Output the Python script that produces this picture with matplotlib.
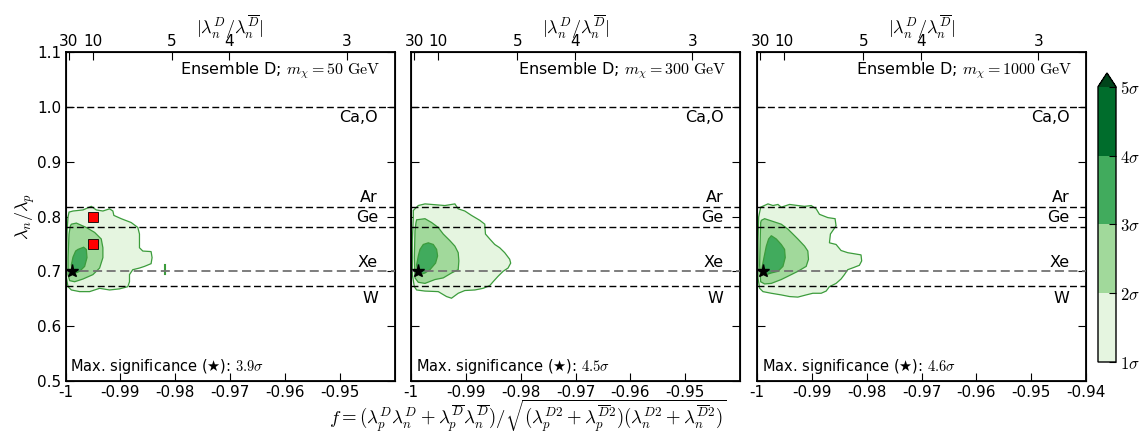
import numpy as np
import matplotlib
matplotlib.use("Agg")
import matplotlib.pyplot as plt
from matplotlib.colors import ListedColormap, BoundaryNorm
from matplotlib.cm import ScalarMappable

plt.rcParams['mathtext.fontset'] = 'cm'
plt.rcParams['font.size'] = 11

# masses and max significance per panel
masses = [50, 300, 1000]
max_sig = ["3.9", "4.5", "4.6"]

# best point (star)
star_f = [-0.9988, -0.9988, -0.9989]
star_y = [0.701, 0.701, 0.701]

# horizontal lines: lambda_n/lambda_p = Z/N for the targets
targets = ["Ca,O", "Ar", "Ge", "Xe", "W"]
target_ratio = [1.0, 18 / 22, 32 / 41, 54 / 77, 74 / 110]
target_label_y = [0.981, 0.835, 0.798, 0.717, 0.651]

# top axis ticks |lambda_n^D / lambda_n^Dbar|
top_ratios = [30, 10, 5, 4, 3]

# contour outlines: offset from f=-1 in units of 1e-3, and lambda_n/lambda_p
# panel 1 (50 GeV)
p1_s1_df = [0.64, 1.37, 3.19, 4.70, 5.61, 6.82, 8.04, 8.64, 8.82, 10.16, 11.98, 13.19, 13.49, 13.49, 14.1,
            15.61, 15.79, 15.61, 14.4, 13.49, 12.27, 11.67, 11.67, 11.37, 9.85, 8.04, 6.22, 4.4, 2.58, 1.07,
            0.46, 0.16, 0.16, 0.28, 0.46]
p1_s1_y = [0.808, 0.810, 0.812, 0.8185, 0.812, 0.810, 0.814, 0.810, 0.802, 0.796, 0.789, 0.780, 0.768, 0.743,
           0.737, 0.736, 0.725, 0.714, 0.709, 0.706, 0.703, 0.694, 0.681, 0.672, 0.668, 0.666, 0.669, 0.663,
           0.663, 0.666, 0.672, 0.688, 0.725, 0.774, 0.799]
p1_s2_df = [1.07, 1.98, 3.79, 5.31, 6.52, 6.82, 6.82, 6.22, 5.0, 3.19, 1.67, 0.76, 0.46, 0.46, 0.64, 0.885]
p1_s2_y = [0.786, 0.788, 0.780, 0.771, 0.759, 0.743, 0.725, 0.706, 0.694, 0.686, 0.681, 0.683, 0.694, 0.725,
           0.768, 0.783]
p1_s3_df = [2.28, 3.31, 3.79, 3.92, 3.49, 2.58, 1.85, 1.25, 1.07, 1.37, 1.85]
p1_s3_y = [0.740, 0.744, 0.740, 0.725, 0.709, 0.700, 0.697, 0.700, 0.712, 0.726, 0.737]

# panel 2 (300 GeV)
p2_s1_df = [0.42, 1.33, 2.55, 3.76, 6.18, 8.0, 8.61, 9.82, 11.03, 12.55, 13.45, 13.58, 14.36, 15.27, 16.18,
            17.09, 18.0, 18.18, 17.7, 16.79, 15.88, 14.97, 14.36, 13.15, 11.64, 9.82, 8.61, 7.39, 6.48, 4.97,
            2.55, 1.03, 0.61, 0.24, 0.24, 0.42]
p2_s1_y = [0.811, 0.820, 0.823, 0.822, 0.820, 0.823, 0.814, 0.810, 0.802, 0.793, 0.786, 0.768, 0.759, 0.749,
           0.743, 0.734, 0.722, 0.715, 0.706, 0.700, 0.691, 0.681, 0.674, 0.669, 0.666, 0.665, 0.660, 0.651,
           0.654, 0.663, 0.664, 0.666, 0.672, 0.694, 0.756, 0.799]
p2_s2_df = [1.03, 2.55, 3.76, 4.97, 5.88, 7.09, 8.0, 8.61, 8.73, 8.61, 7.39, 5.88, 4.36, 2.55, 1.33, 0.73,
            0.61, 0.73, 0.91]
p2_s2_y = [0.794, 0.796, 0.789, 0.780, 0.768, 0.756, 0.746, 0.734, 0.719, 0.703, 0.697, 0.688, 0.685, 0.678,
           0.680, 0.688, 0.725, 0.774, 0.789]
p2_s3_df = [2.24, 3.15, 4.06, 4.67, 4.85, 4.48, 3.45, 2.55, 1.64, 1.21, 1.03, 1.33, 1.64]
p2_s3_y = [0.749, 0.752, 0.749, 0.740, 0.728, 0.715, 0.703, 0.697, 0.694, 0.697, 0.712, 0.728, 0.740]

# panel 3 (1000 GeV)
p3_s1_df = [0.67, 2.0, 2.91, 3.82, 4.42, 5.94, 7.45, 8.67, 9.88, 10.79, 11.39, 12.91, 14.24, 14.42, 13.39,
            13.21, 14.42, 15.33, 16.55, 17.76, 18.97, 19.09, 18.67, 17.64, 16.55, 15.94, 15.33, 14.42, 13.21,
            12.61, 11.7, 10.18, 8.97, 7.45, 5.94, 4.42, 2.61, 1.09, 0.48, 0.18, 0.18, 0.3]
p3_s1_y = [0.817, 0.823, 0.820, 0.822, 0.817, 0.822, 0.820, 0.8185, 0.820, 0.814, 0.804, 0.798, 0.796, 0.783,
           0.768, 0.752, 0.749, 0.738, 0.734, 0.732, 0.730, 0.719, 0.711, 0.707, 0.703, 0.694, 0.686, 0.678,
           0.672, 0.664, 0.660, 0.660, 0.657, 0.653, 0.654, 0.657, 0.660, 0.663, 0.669, 0.688, 0.756, 0.799]
p3_s2_df = [0.79, 1.39, 2.91, 4.42, 5.64, 6.55, 7.45, 8.67, 9.27, 9.39, 8.97, 7.45, 5.64, 4.42, 2.61, 1.39,
            0.67, 0.48, 0.61, 0.67]
p3_s2_y = [0.793, 0.796, 0.791, 0.786, 0.777, 0.768, 0.759, 0.746, 0.737, 0.722, 0.709, 0.700, 0.691, 0.685,
           0.678, 0.677, 0.681, 0.712, 0.768, 0.789]
p3_s3_df = [2.61, 3.52, 4.42, 5.03, 5.15, 4.73, 3.82, 2.61, 1.7, 1.09, 0.91, 1.27, 1.7, 2.12]
p3_s3_y = [0.765, 0.759, 0.749, 0.740, 0.725, 0.709, 0.700, 0.697, 0.694, 0.695, 0.706, 0.725, 0.746, 0.759]

contours = [
    [(p1_s1_df, p1_s1_y), (p1_s2_df, p1_s2_y), (p1_s3_df, p1_s3_y)],
    [(p2_s1_df, p2_s1_y), (p2_s2_df, p2_s2_y), (p2_s3_df, p2_s3_y)],
    [(p3_s1_df, p3_s1_y), (p3_s2_df, p3_s2_y), (p3_s3_df, p3_s3_y)],
]

# small 1 sigma island in panel 1
island_f = [-0.9818, -0.9818]
island_y = [0.695, 0.711]

# red squares in panel 1
square_f = [-0.99504, -0.99504]
square_y = [0.80, 0.75]

xticks = [-1, -0.99, -0.98, -0.97, -0.96, -0.95, -0.94]
xticklabels = ["-1", "-0.99", "-0.98", "-0.97", "-0.96", "-0.95", "-0.94"]
yticks = [0.5, 0.6, 0.7, 0.8, 0.9, 1.0, 1.1]

sig_colors = ['#e5f5e0', '#a1d99b', '#41ab5d', '#006d2c']
over_color = '#00441b'
edge_color = '#3c9c3c'

W, H = 1145, 436
fig = plt.figure(figsize=(W / 100, H / 100), dpi=100)
lefts = [65.5, 411, 757]
axes = []
for i in range(3):
    ax = fig.add_axes([lefts[i] / W, 1 - 381 / H, 329 / W, 329 / H])
    axes.append(ax)

for i, ax in enumerate(axes):
    ax.set_xlim(-1, -0.94)
    ax.set_ylim(0.5, 1.1)
    for k, (df, yy) in enumerate(contours[i]):
        ff = -1 + np.array(df) * 1e-3
        ax.fill(ff, yy, facecolor=sig_colors[k], edgecolor=edge_color, lw=0.9, zorder=2)
    if i == 0:
        ax.plot(island_f, island_y, color=edge_color, lw=1.5, zorder=2)
        ax.plot(square_f, square_y, 's', color='red', mec='k', mew=0.6, ms=6.5, ls='none', zorder=5)

    for name, r, ly in zip(targets, target_ratio, target_label_y):
        col = '0.45' if name == "Xe" else 'k'
        lw = 1.3 if name == "Xe" else 1.0
        ax.axhline(r, ls=(0, (5, 2.5)), color=col, lw=lw, zorder=3)
        ax.text(-0.943, ly, name, ha='right', va='center', fontsize=11.5, zorder=4)

    ax.plot(star_f[i], star_y[i], '*', color='k', ms=9.5, zorder=6, clip_on=False)

    ax.text(-0.9425, 1.066, "Ensemble D; $m_\\chi = %d\\ \\mathrm{GeV}$" % masses[i],
            ha='right', va='center', fontsize=11.5)
    ax.text(-0.9991, 0.527, "Max. significance (\u2605): $%s\\sigma$" % max_sig[i],
            ha='left', va='center', fontsize=10.5)

    if i < 2:
        ax.set_xticks(xticks[:-1])
        ax.set_xticklabels(xticklabels[:-1])
    else:
        ax.set_xticks(xticks)
        ax.set_xticklabels(xticklabels)
    ax.set_yticks(yticks)
    if i == 0:
        ax.set_yticklabels(["%.1f" % v for v in yticks])
    else:
        ax.set_yticklabels([])
    ax.tick_params(direction='in', length=6, width=0.8, top=False, right=True, labelsize=11, pad=3)
    for s in ax.spines.values():
        s.set_linewidth(1.3)

    top = ax.twiny()
    top.set_xlim(-1, -0.94)
    tr = np.array(top_ratios, dtype=float)
    top.set_xticks(-tr / np.sqrt(tr ** 2 + 1))
    top.set_xticklabels([str(v) for v in top_ratios])
    top.tick_params(direction='in', length=6, width=0.8, labelsize=11, pad=2)
    top.set_xlabel(r'$|\lambda_n^D/\lambda_n^{\overline{D}}|$', fontsize=13, labelpad=0)

fig.text(25 / W, 1 - 216 / H, r'$\lambda_n/\lambda_p$', rotation=90, ha='center', va='center', fontsize=13)
fig.text(528 / W, 1 - 416 / H,
         r'$f=(\lambda_p^D\lambda_n^D+\lambda_p^{\overline{D}}\lambda_n^{\overline{D}})/'
         r'\sqrt{(\lambda_p^{D2}+\lambda_p^{\overline{D}2})(\lambda_n^{D2}+\lambda_n^{\overline{D}2})}$',
         ha='center', va='center', fontsize=13.5)

# colorbar
cax = fig.add_axes([1098 / W, 1 - 362 / H, 18 / W, (362 - 73) / H])
cmap = ListedColormap(sig_colors)
cmap.set_over(over_color)
norm = BoundaryNorm([1, 2, 3, 4, 5], cmap.N)
cb = fig.colorbar(ScalarMappable(norm=norm, cmap=cmap), cax=cax, extend='max', ticks=[1, 2, 3, 4, 5])
cb.set_ticklabels([r'$%d\sigma$' % v for v in [1, 2, 3, 4, 5]])
cb.ax.tick_params(direction='in', length=5, labelsize=12, pad=3)
cb.outline.set_linewidth(1.0)

fig.savefig("out.png", dpi=100)
